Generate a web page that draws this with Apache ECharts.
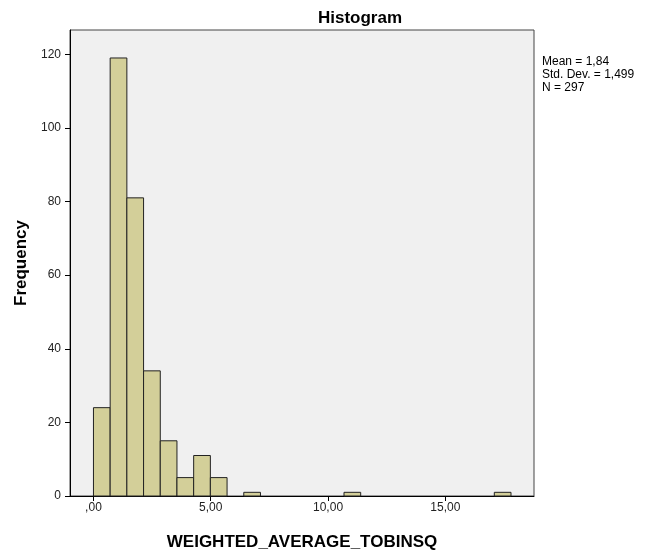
<!DOCTYPE html>
<html>
<head>
<meta charset="utf-8">
<title>Histogram</title>
<script src="https://cdn.jsdelivr.net/npm/echarts@6/dist/echarts.min.js"></script>
<style>
html, body { margin: 0; padding: 0; background: #fff; }
#chart1 { width: 657px; height: 556px; }
</style>
</head>
<body>
<div id="chart1"></div>
<script>
// bin layout (bins start at 0, width ~0.712)
var binStart = 0;
var binWidth = 0.712;
// frequency per bin
var counts = [24, 119, 81, 34, 15, 5, 11, 5, 0, 1, 0, 0, 0, 0, 0, 1, 0, 0, 0, 0, 0, 0, 0, 0, 1];
var xTicks = [0, 5, 10, 15];
var yTicks = [0, 20, 40, 60, 80, 100, 120];
var statLines = ['Mean = 1,84', 'Std. Dev. = 1,499', 'N = 297'];

var binData = [];
for (var i = 0; i < counts.length; i++) {
    if (counts[i] != 0) {
        binData.push([binStart + i * binWidth, binStart + (i + 1) * binWidth, counts[i]]);
    }
}

function commaFmt(v) {
    var s = v.toFixed(2).replace('.', ',');
    if (s.indexOf('0,') === 0) s = s.substring(1);
    return s;
}

var myChart = echarts.init(document.getElementById('chart1'));
var font = 'Liberation Sans, Arial, sans-serif';

myChart.setOption({
    animation: false,
    title: {
        text: 'Histogram',
        left: 355,
        textAlign: 'center',
        top: 5,
        textStyle: { fontFamily: font, fontSize: 17, fontWeight: 'bold', color: '#000' }
    },
    grid: {
        left: 70, right: 123, top: 30, bottom: 59,
        show: true,
        backgroundColor: '#f0f0f0',
        borderColor: '#444',
        borderWidth: 1
    },
    xAxis: {
        type: 'value',
        min: -1,
        max: 18.78,
        name: 'WEIGHTED_AVERAGE_TOBINSQ',
        nameLocation: 'middle',
        nameGap: 38,
        nameTextStyle: { fontFamily: font, fontSize: 17, fontWeight: 'bold', color: '#000' },
        axisLine: { show: true, onZero: false, lineStyle: { color: '#000', width: 1 } },
        axisTick: { show: true, length: 5, customValues: xTicks, lineStyle: { color: '#000' } },
        axisLabel: {
            customValues: xTicks,
            formatter: commaFmt,
            fontFamily: font, fontSize: 12, color: '#222', margin: 6
        },
        splitLine: { show: false }
    },
    yAxis: {
        type: 'value',
        min: 0,
        max: 126.6,
        name: 'Frequency',
        nameLocation: 'middle',
        nameGap: 40,
        nameRotate: 90,
        nameTextStyle: { fontFamily: font, fontSize: 17, fontWeight: 'bold', color: '#000' },
        axisLine: { show: true, onZero: false, lineStyle: { color: '#000', width: 1 } },
        axisTick: { show: true, length: 5, customValues: yTicks, lineStyle: { color: '#000' } },
        axisLabel: {
            customValues: yTicks,
            fontFamily: font, fontSize: 12, color: '#222', margin: 9
        },
        splitLine: { show: false }
    },
    graphic: [{
        type: 'text',
        left: 542,
        top: 55,
        style: {
            text: statLines.join('\n'),
            font: '12px ' + font,
            lineHeight: 13,
            fill: '#000'
        }
    }],
    series: [{
        type: 'custom',
        renderItem: function (params, api) {
            var p0 = api.coord([api.value(0), api.value(2)]);
            var p1 = api.coord([api.value(1), 0]);
            return {
                type: 'rect',
                shape: { x: p0[0], y: p0[1], width: p1[0] - p0[0], height: p1[1] - p0[1] },
                style: { fill: '#d3cf99', stroke: '#222', lineWidth: 1 }
            };
        },
        encode: { x: [0, 1], y: 2 },
        data: binData
    }]
});
</script>
</body>
</html>
